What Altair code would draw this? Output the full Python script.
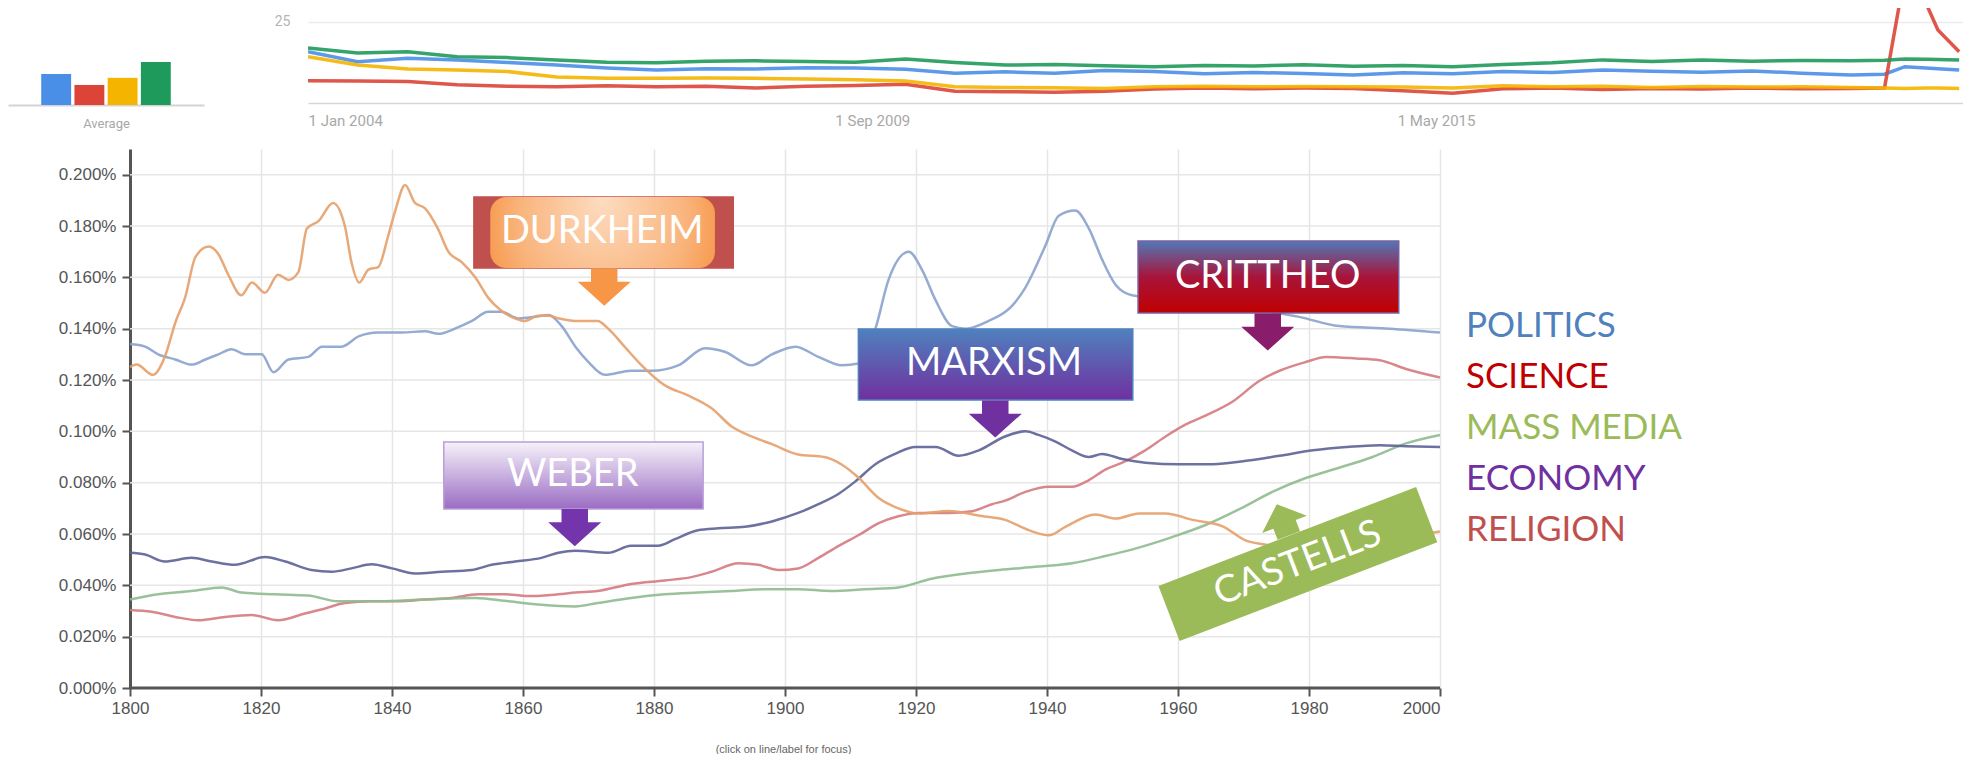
import altair as alt
import pandas as pd

# ---------------- Google Trends strip (top) ----------------
TERMS = ["term 1", "term 2", "term 3", "term 4"]
TERM_COLORS = ["#4a8fe7", "#db4437", "#f4b400", "#1e9a5a"]
AVERAGES = [9.6, 6.2, 8.4, 13.3]

TREND_DATES = [
    "2004-01-01", "2004-07-01", "2005-01-01", "2005-07-01", "2006-01-01", "2006-07-01",
    "2007-01-01", "2007-07-01", "2008-01-01", "2008-07-01", "2009-01-01", "2009-07-01",
    "2010-01-01", "2010-07-01", "2011-01-01", "2011-07-01", "2012-01-01", "2012-07-01",
    "2013-01-01", "2013-07-01", "2014-01-01", "2014-07-01", "2015-01-01", "2015-07-01",
    "2016-01-01", "2016-07-01", "2017-01-01", "2017-07-01", "2018-01-01", "2018-07-01",
    "2019-01-01", "2019-07-01", "2019-11-01", "2020-01-15", "2020-04-01", "2020-05-15",
    "2020-08-01",
]
TREND_T1 = [15.8, 12.7, 13.8, 13.3, 12.5, 11.7, 10.8, 10.2, 10.6, 10.5, 10.9, 10.8,
            10.4, 9.2, 9.6, 9.2, 10.0, 9.7, 9.0, 9.4, 9.1, 8.6, 9.3, 9.0,
            9.7, 9.4, 10.2, 9.8, 9.5, 9.9, 9.2, 8.6, 8.9, 11.2, 10.8, 10.6, 10.2]
TREND_T2 = [6.9, 6.8, 6.6, 5.6, 5.2, 5.0, 5.3, 5.0, 5.2, 4.6, 5.2, 5.4,
            5.8, 3.6, 3.5, 3.3, 3.6, 4.3, 4.6, 4.4, 4.6, 4.5, 3.8, 3.0,
            4.4, 4.6, 4.2, 4.5, 4.3, 4.6, 4.4, 4.5, 4.6, 40.0, 30.8, 22.5, 15.8]
TREND_T3 = [14.3, 11.7, 10.5, 10.2, 9.7, 8.0, 7.6, 7.6, 7.7, 7.6, 7.4, 7.2,
            6.8, 5.0, 4.8, 4.7, 4.5, 5.0, 5.2, 5.0, 5.1, 5.0, 4.9, 4.6,
            5.3, 5.0, 5.2, 4.8, 5.1, 4.9, 5.0, 4.8, 4.6, 4.5, 4.6, 4.6, 4.5]
TREND_T4 = [17.0, 15.4, 15.8, 14.3, 14.0, 13.3, 12.6, 12.4, 12.9, 13.0, 12.8, 12.6,
            13.6, 12.5, 11.7, 11.9, 11.5, 11.2, 11.6, 11.4, 11.8, 11.3, 11.6, 11.2,
            11.9, 12.4, 13.3, 12.8, 13.3, 12.9, 13.1, 13.0, 13.2, 13.6, 13.5, 13.4, 13.3]

# ---------------- Ngram chart (main) ----------------
SERIES = ["POLITICS", "SCIENCE", "MASS MEDIA", "ECONOMY", "RELIGION"]
LINE_COLORS = ["#8aa2cc", "#d47a80", "#8fbb8f", "#5c6296", "#e6a06c"]
LEGEND_COLORS = ["#4f81bd", "#c00000", "#9bbb59", "#7030a0", "#c0504d"]
Y_TICKS = [0, 0.02, 0.04, 0.06, 0.08, 0.1, 0.12, 0.14, 0.16, 0.18, 0.2]
X_TICKS = [1800, 1820, 1840, 1860, 1880, 1900, 1920, 1940, 1960, 1980, 2000]

POLITICS_YEARS = [1800, 1802.3, 1804.3, 1806.9, 1809.4, 1811.5, 1813.5, 1815.5, 1817.6, 1820.1,
                  1821.9, 1824.2, 1827.2, 1829.3, 1832.3, 1834.9, 1837.9, 1841.5, 1845, 1847.1,
                  1849.6, 1852.2, 1854.7, 1856.7, 1859.3, 1861.8, 1863.9, 1865.9, 1868, 1870,
                  1872.5, 1876.5, 1879.6, 1883.7, 1887.8, 1890.8, 1894.9, 1898, 1901.6, 1905.1,
                  1908.7, 1911.2, 1913.8, 1915.8, 1918.9, 1920.9, 1923, 1925.5, 1927.6, 1931.1,
                  1934.7, 1936.7, 1939.7, 1941.8, 1944.3, 1946.4, 1948.4, 1950.5, 1953, 1960,
                  1970, 1978.5, 1984.6, 1992.3, 2000]
POLITICS = [0.134, 0.133, 0.130, 0.128, 0.126, 0.128, 0.130, 0.132, 0.130, 0.130,
            0.123, 0.128, 0.129, 0.133, 0.133, 0.137, 0.1385, 0.1385, 0.139, 0.138,
            0.140, 0.143, 0.1466, 0.1466, 0.144, 0.1446, 0.1453, 0.141, 0.133, 0.127,
            0.122, 0.1236, 0.1236, 0.1257, 0.1324, 0.131, 0.1257, 0.130, 0.133, 0.129,
            0.1257, 0.1264, 0.140, 0.159, 0.170, 0.163, 0.151, 0.141, 0.140, 0.143,
            0.149, 0.156, 0.172, 0.184, 0.186, 0.179, 0.167, 0.157, 0.153, 0.151,
            0.148, 0.1446, 0.141, 0.140, 0.1385]

SCIENCE_YEARS = [1800, 1803.3, 1806.9, 1810.4, 1814.5, 1818.6, 1822.6, 1826.7, 1829.8, 1832.8,
                 1836.9, 1841, 1845, 1849.1, 1853.2, 1857.3, 1861.3, 1865.4, 1868, 1871.4,
                 1876.5, 1881.6, 1885.7, 1888.8, 1892.9, 1895.9, 1899, 1902, 1905.1, 1908.2,
                 1911.2, 1914.3, 1917.3, 1920.4, 1925, 1928.6, 1931.6, 1933.6, 1936.7, 1940.3,
                 1943.8, 1946.4, 1948.9, 1951.5, 1955, 1958.1, 1961.2, 1964.2, 1968.3, 1972.4,
                 1975.5, 1979.5, 1982.6, 1987.2, 1990.8, 1994.8, 2000]
SCIENCE = [0.0304, 0.0297, 0.0277, 0.0264, 0.0277, 0.0284, 0.0264, 0.029, 0.031, 0.0331,
           0.0338, 0.0338, 0.0345, 0.0351, 0.0365, 0.0365, 0.0358, 0.0365, 0.0372, 0.0378,
           0.0405, 0.0419, 0.0432, 0.0453, 0.0486, 0.048, 0.046, 0.0466, 0.0507, 0.0554,
           0.0595, 0.0642, 0.0669, 0.0682, 0.0682, 0.0689, 0.0716, 0.073, 0.0764, 0.0784,
           0.0784, 0.081, 0.0851, 0.0878, 0.0926, 0.098, 0.1027, 0.1061, 0.1115, 0.1196,
           0.1236, 0.127, 0.129, 0.1284, 0.1277, 0.1243, 0.121]

MEDIA_YEARS = [1800, 1804.3, 1809.4, 1814, 1817, 1822.1, 1827.2, 1831.8, 1837.9, 1845,
               1852.7, 1857.8, 1862.8, 1867.9, 1871.4, 1876.5, 1881.6, 1886.7, 1891.8, 1896.9,
               1902, 1907.1, 1912.2, 1917.3, 1922.4, 1927.6, 1932.7, 1938.7, 1943.8, 1948.9,
               1954, 1959.1, 1964.2, 1969.3, 1974.4, 1979.5, 1984.6, 1989.6, 1994.8, 2000]
MEDIA = [0.0345, 0.0365, 0.0378, 0.0392, 0.0372, 0.0365, 0.036, 0.0338, 0.0338, 0.0345,
         0.0351, 0.0338, 0.0324, 0.0318, 0.0331, 0.0351, 0.0365, 0.0372, 0.0378, 0.0385,
         0.0385, 0.0378, 0.0385, 0.0392, 0.0426, 0.0446, 0.046, 0.0473, 0.0486, 0.0514,
         0.0547, 0.0588, 0.0635, 0.0696, 0.0764, 0.0818, 0.0858, 0.0899, 0.0953, 0.0986]

ECONOMY_YEARS = [1800, 1802.3, 1805.3, 1809.4, 1812.5, 1816, 1820.6, 1823.7, 1827.7, 1830.8,
                 1833.8, 1836.9, 1840, 1843.5, 1847.6, 1852.2, 1855.2, 1858.8, 1862.8, 1865.4,
                 1868, 1873, 1876.5, 1880.6, 1883.2, 1886.7, 1889.8, 1893.9, 1898, 1902,
                 1905.1, 1908.2, 1910.7, 1913.8, 1916.8, 1919.9, 1923, 1926.5, 1929.6, 1933.6,
                 1936.7, 1938.7, 1941.3, 1943.8, 1946.4, 1948.4, 1951.5, 1955, 1960.2, 1965.3,
                 1970.4, 1975.5, 1980.6, 1985.7, 1990.8, 1994.8, 2000]
ECONOMY = [0.0527, 0.052, 0.0493, 0.0507, 0.0493, 0.048, 0.051, 0.0493, 0.046, 0.0453,
           0.0466, 0.0482, 0.0466, 0.0446, 0.0453, 0.046, 0.048, 0.0493, 0.0507, 0.0527,
           0.0535, 0.0527, 0.0554, 0.0554, 0.058, 0.0615, 0.0622, 0.0628, 0.0649, 0.0682,
           0.0716, 0.0757, 0.0804, 0.0872, 0.0912, 0.0939, 0.0939, 0.0905, 0.0926, 0.098,
           0.100, 0.0986, 0.096, 0.0926, 0.090, 0.0912, 0.0892, 0.0878, 0.0872, 0.0872,
           0.0885, 0.0905, 0.0926, 0.0939, 0.0946, 0.0942, 0.0939]

RELIGION_YEARS = [1800, 1801, 1803.5, 1805.3, 1807, 1808.4, 1810, 1812, 1813.5, 1815,
                  1817, 1818.6, 1820.6, 1822.6, 1824.2, 1825.7, 1827, 1828.8, 1831, 1832.8,
                  1833.8, 1835, 1836.4, 1837.9, 1839.4, 1840.5, 1842, 1843.5, 1845, 1847,
                  1848.6, 1850.6, 1852.7, 1854.7, 1856.7, 1858.8, 1860.3, 1862.3, 1863.9, 1865.4,
                  1868, 1871.4, 1873, 1875.5, 1878, 1881.6, 1885.2, 1888.8, 1891.8, 1894.9,
                  1898, 1902, 1906, 1908.7, 1911.2, 1914.3, 1917.3, 1920.4, 1925, 1930,
                  1933.6, 1937.2, 1940.3, 1942.8, 1947.4, 1950.5, 1954, 1958.1, 1962.2, 1966.8,
                  1970.4, 1973, 1980, 1990, 2000]
RELIGION = [0.125, 0.126, 0.122, 0.129, 0.143, 0.152, 0.168, 0.172, 0.169, 0.161,
            0.153, 0.158, 0.154, 0.161, 0.159, 0.162, 0.179, 0.182, 0.189, 0.180,
            0.166, 0.158, 0.163, 0.164, 0.176, 0.186, 0.196, 0.189, 0.187, 0.179,
            0.170, 0.166, 0.160, 0.152, 0.147, 0.144, 0.143, 0.145, 0.145, 0.144,
            0.143, 0.143, 0.140, 0.133, 0.126, 0.118, 0.114, 0.109, 0.102, 0.098,
            0.095, 0.091, 0.090, 0.087, 0.082, 0.074, 0.070, 0.068, 0.069, 0.067,
            0.0655, 0.0615, 0.0595, 0.0628, 0.0676, 0.066, 0.068, 0.068, 0.0655, 0.063,
            0.0574, 0.056, 0.054, 0.057, 0.061]

# ---------------- Annotations ----------------
ANNOT_LABELS = ["DURKHEIM", "WEBER", "MARXISM", "CRITTHEO"]
BOX_YEAR_START = [1852.5, 1847.9, 1911.2, 1953.9]
BOX_YEAR_END = [1892.1, 1887.5, 1953.1, 1993.7]
BOX_TOP = [0.1913, 0.0958, 0.1399, 0.1742]
BOX_BOTTOM = [0.1636, 0.0697, 0.1122, 0.1461]
TEXT_YEAR = [1872.1, 1867.6, 1931.9, 1973.7]
TEXT_VALUE = [0.1777, 0.0830, 0.1262, 0.1601]
ARROW_YEAR = [1872.4, 1867.9, 1932.1, 1973.7]
ARROW_VALUE = [0.1562, 0.0625, 0.1048, 0.1387]
DURKHEIM_INNER = [1855.0, 1889.3]

CASTELLS_LABEL = ["CASTELLS"]
CASTELLS_YEAR = [1978.3]
CASTELLS_VALUE = [0.0483]
CASTELLS_ARROW_YEAR = [1976.0]
CASTELLS_ARROW_VALUE = [0.0655]

# ---------------- Data frames ----------------
trend_rows = []
for term, vals in zip(TERMS, [TREND_T1, TREND_T2, TREND_T3, TREND_T4]):
    for d, v in zip(TREND_DATES, vals):
        trend_rows.append({"term": term, "date": d, "v": v})
trends = pd.DataFrame(trend_rows)
avg = pd.DataFrame({"term": TERMS, "avg": AVERAGES})

ng_rows = []
for name, ys, vs in [("POLITICS", POLITICS_YEARS, POLITICS), ("SCIENCE", SCIENCE_YEARS, SCIENCE),
                     ("MASS MEDIA", MEDIA_YEARS, MEDIA), ("ECONOMY", ECONOMY_YEARS, ECONOMY),
                     ("RELIGION", RELIGION_YEARS, RELIGION)]:
    for y, v in zip(ys, vs):
        ng_rows.append({"series": name, "year": y, "value": v})
ngram = pd.DataFrame(ng_rows)

boxes = pd.DataFrame({"label": ANNOT_LABELS, "year": BOX_YEAR_START, "year2": BOX_YEAR_END,
                      "value": BOX_TOP, "value2": BOX_BOTTOM})
inner = pd.DataFrame({"label": ["DURKHEIM"], "year": [DURKHEIM_INNER[0]], "year2": [DURKHEIM_INNER[1]],
                      "value": [BOX_TOP[0]], "value2": [BOX_BOTTOM[0]]})
texts = pd.DataFrame({"label": ANNOT_LABELS, "year": TEXT_YEAR, "value": TEXT_VALUE})
arrows = pd.DataFrame({"label": ANNOT_LABELS, "year": ARROW_YEAR, "value": ARROW_VALUE})
castells = pd.DataFrame({"label": CASTELLS_LABEL, "year": CASTELLS_YEAR, "value": CASTELLS_VALUE})
castells_arrow = pd.DataFrame({"label": CASTELLS_LABEL, "year": CASTELLS_ARROW_YEAR,
                               "value": CASTELLS_ARROW_VALUE})
ygrid = pd.DataFrame({"value": Y_TICKS[1:]})

# ---------------- Styles ----------------
AXIS_FONT = "Liberation Sans"
ANNOT_FONT = "Lato"
ARROW_PATH = "M-0.5,-0.7L0.5,-0.7L0.5,-0.2L1,-0.2L0,0.7L-1,-0.2L-0.5,-0.2Z"
RECT_PATH = "M-1,-0.214L1,-0.214L1,0.214L-1,0.214Z"


def lin(stops):
    return alt.LinearGradient(gradient="linear", x1=0, y1=0, x2=0, y2=1,
                              stops=[alt.GradientStop(offset=o, color=c) for o, c in stops])


BOX_FILL = {
    "DURKHEIM": "#c0504d",
    "WEBER": lin([(0, "#f6f2fa"), (1, "#9a6cc3")]),
    "MARXISM": lin([(0, "#4f81bd"), (1, "#7030a0")]),
    "CRITTHEO": lin([(0, "#5078b8"), (0.5, "#a8143a"), (1, "#c00000")]),
}
BOX_STROKE = {"DURKHEIM": "#c0504d", "WEBER": "#b9a0d6", "MARXISM": "#4f81bd", "CRITTHEO": "#7a5fa0"}
ARROW_FILL = {"DURKHEIM": "#f79646", "WEBER": "#7434ac", "MARXISM": "#7030a0", "CRITTHEO": "#8a1c6c"}
DURKHEIM_INNER_FILL = alt.RadialGradient(
    gradient="radial", x1=0.5, y1=0.35, r1=0, x2=0.5, y2=0.5, r2=0.62,
    stops=[alt.GradientStop(offset=0, color="#fddcc0"), alt.GradientStop(offset=0.6, color="#f9b47c"),
           alt.GradientStop(offset=1, color="#f68a32")])

# ---------------- Top strip ----------------
avg_chart = alt.Chart(avg).mark_bar().encode(
    x=alt.X("term:N", sort=TERMS, scale=alt.Scale(paddingInner=0.1, paddingOuter=1),
            axis=alt.Axis(labels=False, ticks=False, domainColor="#d4d4d4", domainWidth=2,
                          title="Average", titleColor="#a8a8a8", titleFontSize=13,
                          titleFontWeight="normal", titleFont="Roboto", titlePadding=12,
                          minExtent=0, maxExtent=0)),
    y=alt.Y("avg:Q", scale=alt.Scale(domain=[0, 30], nice=False), axis=None),
    color=alt.Color("term:N", scale=alt.Scale(domain=TERMS, range=TERM_COLORS), legend=None),
).properties(width=196, height=97)

trend_chart = alt.Chart(trends).mark_line(strokeWidth=3.5, clip=True, opacity=0.9).encode(
    x=alt.X("date:T",
            scale=alt.Scale(domain=[alt.DateTime(year=2004, month=1, date=1),
                                    alt.DateTime(year=2020, month=8, date=15)]),
            axis=alt.Axis(values=[alt.DateTime(year=2004, month=1, date=1),
                                  alt.DateTime(year=2009, month=9, date=1),
                                  alt.DateTime(year=2015, month=5, date=1)],
                          format="%-d %b %Y", grid=False, ticks=False, domain=False,
                          labelColor="#a8a8a8", labelFontSize=15, labelFont="Roboto",
                          labelPadding=10, title=None)),
    y=alt.Y("v:Q", scale=alt.Scale(domain=[0, 29.3], nice=False),
            axis=alt.Axis(values=[0, 25], labelExpr="datum.value == 25 ? '25' : ''",
                          grid=True, gridWidth=1.5,
                          gridColor={"condition": {"test": "datum.value === 0", "value": "#d6d6d6"},
                                     "value": "#ececec"},
                          ticks=False, domain=False, labelColor="#b4b4b4", labelFontSize=14,
                          labelFont="Roboto", labelPadding=18, minExtent=40, maxExtent=40,
                          title=None)),
    color=alt.Color("term:N", scale=alt.Scale(domain=TERMS, range=TERM_COLORS), legend=None),
    detail="term:N",
).properties(width=1655, height=95)

row1 = alt.hconcat(avg_chart, trend_chart, spacing=64).resolve_scale(color="independent")

# ---------------- Main chart ----------------
# the plot area also holds the y-axis labels: the x scale starts 122 px left of 1800
X_AXIS = alt.Axis(values=X_TICKS, format="d",
                  title="(click on line/label for focus)", grid=True, gridColor="#e6e6e6",
                  gridWidth=1.5, domain=False, tickColor="#555555",
                  tickSize=8, tickWidth=2, labelFontSize=17, labelColor="#555555",
                  labelFont=AXIS_FONT, labelPadding=4, titleFontSize=11, titleFontWeight="normal",
                  titleColor="#666666", titleFont=AXIS_FONT, titlePadding=27, titleX=775)
Y_AXIS = alt.Axis(values=Y_TICKS, offset=-122,
                  labelExpr="format(datum.value, '.3f') + '%'", grid=False,
                  domainColor="#555555", domainWidth=3, tickColor="#555555",
                  tickSize=8, tickWidth=2, labelFontSize=17, labelColor="#555555",
                  labelFont=AXIS_FONT, labelPadding=6, minExtent=0, maxExtent=0, title=None)
X_SCALE = alt.Scale(domain=[1781.37, 2000], nice=False, zero=False)
Y_SCALE = alt.Scale(domain=[0, 0.21], nice=False)


def X(field="year"):
    return alt.X(f"{field}:Q", scale=X_SCALE, axis=X_AXIS)


def Y(field="value"):
    return alt.Y(f"{field}:Q", scale=Y_SCALE, axis=Y_AXIS)


grid_rules = alt.Chart(ygrid).mark_rule(color="#e6e6e6", strokeWidth=1.5).encode(
    x=alt.X("datum_x:Q", scale=X_SCALE, axis=X_AXIS), x2="datum_x2:Q", y=Y()
).transform_calculate(datum_x="1800", datum_x2="2000")

base_rule = alt.Chart(pd.DataFrame({"value": [0]})).mark_rule(
    color="#555555", strokeWidth=3).encode(
    x=alt.X("datum_x:Q", scale=X_SCALE, axis=X_AXIS), x2="datum_x2:Q", y=Y()
).transform_calculate(datum_x="1800", datum_x2="2000")

lines = alt.Chart(ngram).mark_line(strokeWidth=2.5, interpolate="monotone", opacity=0.9).encode(
    x=X(), y=Y(),
    color=alt.Color("series:N", scale=alt.Scale(domain=SERIES, range=LINE_COLORS), legend=None),
    detail="series:N",
)

layers = [grid_rules, base_rule, lines]
for lab in ANNOT_LABELS:
    layers.append(alt.Chart(boxes).transform_filter(alt.datum.label == lab).mark_rect(
        fill=BOX_FILL[lab], stroke=BOX_STROKE[lab], strokeWidth=1.5).encode(
        x=X(), x2="year2:Q", y=Y(), y2="value2:Q"))
    if lab == "DURKHEIM":
        layers.append(alt.Chart(inner).mark_rect(fill=DURKHEIM_INNER_FILL, cornerRadius=16).encode(
            x=X(), x2="year2:Q", y=Y(), y2="value2:Q"))
    layers.append(alt.Chart(arrows).transform_filter(alt.datum.label == lab).mark_point(
        shape=ARROW_PATH, filled=True, fill=ARROW_FILL[lab], opacity=1, strokeWidth=0,
        size=2809).encode(x=X(), y=Y()))
    layers.append(alt.Chart(texts).transform_filter(alt.datum.label == lab).mark_text(
        font=ANNOT_FONT, fontSize=38, color="white", baseline="middle", align="center").encode(
        x=X(), y=Y(), text="label:N"))

layers.append(alt.Chart(castells).mark_point(
    shape=RECT_PATH, filled=True, fill="#9bbb59", opacity=1, strokeWidth=0, size=76176,
    angle=339).encode(x=X(), y=Y()))
layers.append(alt.Chart(castells_arrow).mark_point(
    shape=ARROW_PATH, filled=True, fill="#9bbb59", opacity=1, strokeWidth=0, size=2300,
    angle=159).encode(x=X(), y=Y()))
layers.append(alt.Chart(castells).mark_text(
    font=ANNOT_FONT, fontSize=38, color="white", baseline="middle", align="center",
    angle=339).encode(x=X(), y=Y(), text="label:N"))

main = alt.layer(*layers).properties(width=1432, height=539)

# legend labels: one row per series, 51 px apart, shifted down to sit beside the lines' ends
legend_df = pd.DataFrame({"series": SERIES})
legend_panel = alt.Chart(legend_df).mark_text(
    align="left", baseline="middle", font=ANNOT_FONT, fontSize=35, dy=151).encode(
    x=alt.value(0),
    y=alt.Y("series:N", sort=SERIES, axis=None),
    text="series:N",
    color=alt.Color("series:N", scale=alt.Scale(domain=SERIES, range=LEGEND_COLORS), legend=None),
).properties(width=470, height=255)

row2 = alt.hconcat(main, legend_panel, spacing=21).resolve_scale(color="independent")

chart = alt.vconcat(row1, row2, spacing=19).resolve_scale(
    color="independent").properties(padding=0, background="white").configure_view(strokeWidth=0)

chart.save("out.html", embed_options={"renderer": "svg", "actions": False})
